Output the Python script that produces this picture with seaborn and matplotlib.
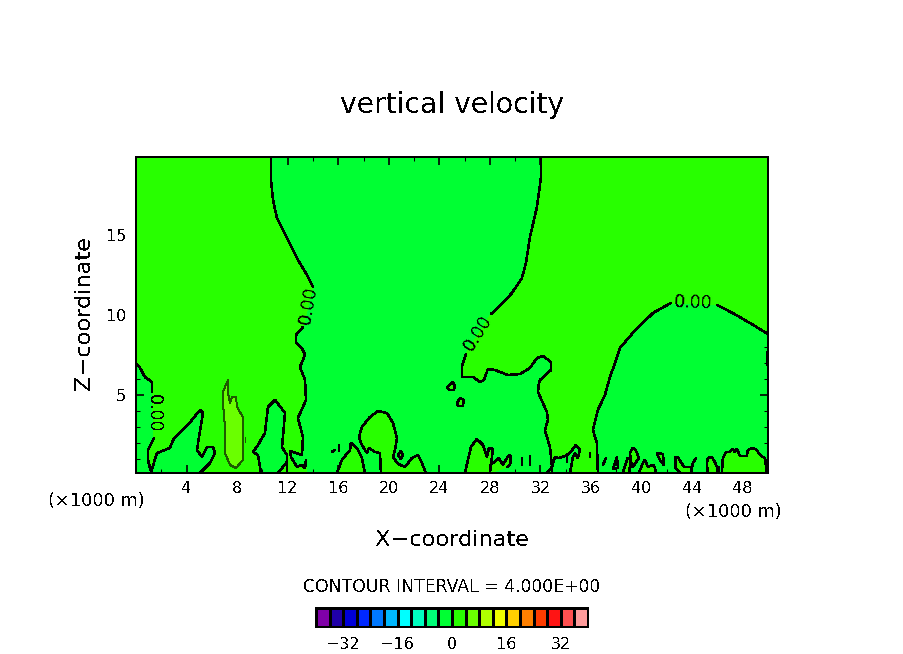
import matplotlib
matplotlib.use("Agg")

import matplotlib.pyplot as plt
from matplotlib.colors import ListedColormap
import numpy as np
import pandas as pd
import seaborn as sns

# -----------------------------
# COLOUR TABLE
# -----------------------------
levels = [-38, -34, -30, -26, -22, -18, -14, -10, -6, -2, 2, 6, 10, 14, 18, 22, 26, 30, 34, 38]
level_colors = ["#8000a8", "#2000a8", "#0000d8", "#0028ff", "#0078ff", "#00b8ff", "#00ffff",
                "#00ffc0", "#00ff78", "#00ff33", "#28ff00", "#6aff00", "#b0ff00", "#f0ff00",
                "#ffd000", "#ff8000", "#ff3c00", "#ff1414", "#ff5050", "#ff9c9c"]
bar_ticks = [-32, -16, 0, 16, 32]

x_major = [4, 8, 12, 16, 20, 24, 28, 32, 36, 40, 44, 48]
x_minor = [2, 6, 10, 14, 18, 22, 26, 30, 34, 38, 42, 46, 50]
z_major = [5, 10, 15]
z_minor = [1, 2, 3, 4, 6, 7, 8, 9, 11, 12, 13, 14, 16, 17, 18, 19]

# -----------------------------
# ZERO CONTOUR (x km, z km)
# -----------------------------
left_upper = [(0, 7.0), (0.32, 6.69), (0.71, 6.12), (1.27, 5.81), (1.27, 5.19)]
left_lower = [(1.42, 2.31), (0.95, 1.56), (0.95, 0.94), (1.19, 0.19), (1.66, 1.375), (2.69, 1.69),
              (2.93, 2.19), (3.64, 2.81), (4.11, 3.125), (5.06, 4.06), (5.30, 3.875), (4.98, 2.375),
              (4.83, 1.56), (5.22, 1.125), (5.62, 1.75), (6.09, 1.75), (6.25, 1.375), (5.85, 0.75),
              (5.06, 0.125)]
west_upper = [(10.68, 19.875), (10.68, 18.44), (10.84, 17.19), (11.15, 16.06), (11.94, 14.81),
              (12.73, 13.56), (13.53, 12.5), (14.0, 11.75)]
west_lower = [(13.21, 9.25), (12.66, 8.75), (12.66, 8.31), (13.21, 7.81), (13.37, 7.5), (12.97, 6.75),
              (13.37, 5.94), (13.45, 4.69), (12.81, 3.56), (13.21, 2.375), (13.13, 1.25), (12.18, 1.5),
              (12.26, 1.125), (12.73, 0.5), (13.13, 0.625), (13.37, 0.44), (13.45, 0.94)]
bump_11 = [(9.89, 0.125), (9.65, 1.25), (9.25, 1.44), (9.65, 1.875), (10.2, 2.625), (10.44, 4.25),
           (11.0, 4.69), (11.79, 3.875), (11.55, 1.75), (11.94, 1.25), (11.94, 0.81), (11.23, 0.125)]
stem_12 = [(11.94, 0.81), (11.94, 0.125)]
bump_17 = [(15.9, 0.125), (16.29, 0.94), (16.93, 1.56), (17.0, 2.0), (17.48, 1.69), (17.87, 1.06),
           (18.11, 0.125)]
bump_20 = [(19.38, 0.125), (19.3, 1.375), (18.9, 1.44), (18.43, 1.69), (18.27, 1.375), (17.87, 1.875),
           (17.64, 2.375), (17.87, 3.0), (18.51, 3.625), (19.14, 4.0), (19.85, 3.875), (20.33, 3.25),
           (20.65, 2.31), (20.49, 1.56), (20.33, 1.125), (20.73, 0.69), (21.28, 0.5), (21.83, 1.06),
           (22.31, 1.25), (22.62, 0.75), (22.94, 0.125)]
bump_27 = [(26.02, 0.125), (26.5, 1.75), (26.97, 2.25), (27.45, 1.875), (27.76, 1.125), (27.92, 1.69),
           (28.24, 1.625), (28.16, 1.125), (28.0, 0.125)]
wiggle_29 = [(28.0, 0.125), (28.0, 0.625), (28.56, 0.94), (28.72, 1.06), (29.03, 0.625), (29.35, 1.06),
             (29.51, 1.25), (29.66, 1.125), (29.59, 0.625), (29.35, 0.5)]
mid_upper = [(32.03, 19.875), (32.03, 18.56), (31.72, 16.75), (31.17, 14.875), (30.85, 13.25),
             (30.53, 12.31), (29.74, 11.375), (29.03, 10.75), (28.08, 10.06)]
mid_lower = [(26.1, 7.56), (25.78, 6.75), (25.78, 6.125), (26.66, 6.125), (27.21, 5.81), (27.53, 5.94),
             (27.84, 6.625), (28.4, 6.56), (29.43, 6.25), (30.37, 6.31), (31.17, 6.69), (31.72, 7.31),
             (32.2, 7.44), (32.83, 7.06), (32.83, 6.56), (31.96, 5.94), (31.88, 5.75), (31.8, 5.19),
             (32.51, 3.94), (32.59, 3.44), (32.35, 2.81), (32.75, 1.75), (32.91, 0.5), (33.14, 1.125),
             (33.46, 1.06), (33.93, 1.19), (34.33, 1.375), (34.8, 1.875), (35.12, 1.56), (34.96, 1.06),
             (34.72, 1.375), (34.57, 1.125), (34.33, 0.125)]
spur_33 = [(32.51, 0.125), (32.91, 0.5), (32.91, 0.125)]
east_upper = [(50.0, 8.81), (48.57, 9.5), (47.2, 10.125), (45.96, 10.625)]
east_lower = [(42.32, 10.75), (40.9, 10.125), (39.3, 8.875), (38.29, 7.94), (37.9, 7.0), (37.5, 6.125),
              (37.1, 5.0), (36.54, 4.06), (36.15, 2.81), (36.46, 2.0), (36.54, 0.125)]
wedge_39 = [(38.5, 0.125), (38.9, 1.06), (39.15, 0.94), (39.0, 0.125)]
loop_39 = [(39.23, 0.5), (39.07, 1.375), (39.3, 1.69), (39.54, 1.56), (39.78, 1.06), (39.3, 0.5), (39.23, 0.5)]
bump_40 = [(39.78, 0.125), (40.1, 0.75), (40.26, 0.94), (40.5, 0.5), (40.9, 0.625), (41.05, 0.5), (41.13, 0.125)]
wedge_41 = [(41.2, 1.375), (41.69, 1.31), (41.77, 0.625), (41.45, 0.94), (41.2, 1.375)]
bump_43 = [(43.03, 0.125), (42.7, 0.44), (42.7, 1.125), (42.87, 1.125), (43.19, 0.69), (43.42, 0.5),
           (43.82, 0.5), (43.98, 0.44), (43.9, 0.125)]
spur_44 = [(43.98, 0.44), (44.06, 0.75), (44.3, 1.06)]
bump_45 = [(45.24, 0.125), (45.16, 0.75), (45.24, 1.06), (45.56, 1.125), (45.8, 0.81), (45.96, 0.5), (46.04, 0.125)]
bump_48 = [(46.35, 0.125), (46.43, 1.06), (46.67, 1.44), (46.99, 1.44), (47.2, 1.625), (47.38, 1.44),
           (47.54, 1.625), (47.78, 1.19), (48.33, 1.19), (48.41, 1.56), (48.8, 1.69), (49.12, 1.56),
           (49.36, 1.25), (49.75, 1.06), (49.83, 0.625), (49.83, 0.125)]
loop_21 = [(20.73, 1.25), (20.96, 1.5), (21.12, 1.25), (20.96, 1.0), (20.73, 1.25)]
loop_25a = [(24.6, 5.44), (25.0, 5.81), (25.23, 5.625), (25.15, 5.31), (24.84, 5.31), (24.6, 5.44)]
loop_25b = [(25.39, 4.5), (25.63, 4.81), (25.94, 4.69), (25.86, 4.31), (25.47, 4.31), (25.39, 4.5)]
loop_38 = [(38.05, 1.125), (37.73, 0.375), (37.81, 0.375), (38.13, 0.44), (38.05, 1.125)]
blob_16 = [(16.06, 1.5), (16.06, 1.9)]
blob_15 = [(15.5, 1.45), (15.7, 1.55)]
blob_30 = [(30.53, 1.06), (30.53, 0.625)]
blob_31 = [(31.17, 1.19), (31.17, 0.625)]
blob_34 = [(34.09, 1.19), (34.09, 0.81)]
blob_36 = [(35.9, 1.375), (35.9, 1.125)]
blob_37 = [(36.94, 0.625), (37.18, 1.06)]
blob_46 = [(46.1, 0.5), (46.1, 0.125)]
blob_50 = [(49.9, 6.9), (49.9, 7.7)]

# weak updraft near x = 8, next colour band up
patch_8 = [(7.28, 5.94), (6.88, 5.19), (6.88, 4.5), (7.04, 3.0), (7.04, 1.375), (7.44, 0.625), (7.91, 0.44),
           (8.46, 0.94), (8.46, 3.625), (7.99, 4.25), (7.91, 4.875), (7.59, 4.875), (7.44, 4.5),
           (7.28, 5.125), (7.28, 5.94)]
mark_8 = [(8.62, 2.05), (8.62, 2.4)]

contour_pieces = [left_upper, left_lower, west_upper, west_lower, bump_11, stem_12, bump_17, bump_20,
                  bump_27, wiggle_29, mid_upper, mid_lower, spur_33, east_upper, east_lower, wedge_39,
                  loop_39, bump_40, wedge_41, bump_43, spur_44, bump_45, bump_48, loop_21, loop_25a,
                  loop_25b, loop_38, blob_16, blob_15, blob_30, blob_31, blob_34, blob_36, blob_37,
                  blob_46, blob_50]

# labels on the contour: x, z, rotation
label_x = [1.42, 13.6, 27.05, 44.05]
label_z = [3.875, 10.625, 8.875, 10.75]
label_rot = [-90, 80, 58, -2]

X_RANGE = (0, 50)
Z_RANGE = (0.125, 19.875)
W, H = 904, 654


def pieces_frame(pieces):
    rows = []
    for i, piece in enumerate(pieces):
        for x, z in piece:
            rows.append({"x": x, "z": z, "seg": i})
    return pd.DataFrame(rows)


def fill_region(ax, points, color):
    xs, zs = zip(*points)
    ax.fill(xs, zs, color=color, linewidth=0)


sns.set_theme(style="white")
plt.rcParams["font.family"] = ["DejaVu Sans"]
plt.rcParams["text.antialiased"] = False
plt.rcParams["lines.antialiased"] = False
plt.rcParams["patch.antialiased"] = False

fig = plt.figure(figsize=(W / 100, H / 100), dpi=100, facecolor="white")
ax = fig.add_axes([136 / W, (H - 473) / H, 632 / W, 316 / H])

# -----------------------------
# FIELD
# -----------------------------
light = level_colors[9]
dark = level_colors[10]
ax.set_facecolor(light)

# the two big positive areas are bounded by the contour pieces
west_region = ([(0, 19.875)] + west_upper + west_lower + [(13.45, 0.125)]
               + bump_11[::-1] + left_lower[::-1] + left_upper[::-1])
east_region = mid_upper + mid_lower + east_lower[::-1] + east_upper[::-1] + [(50, 19.875)]

fill_region(ax, west_region, dark)
fill_region(ax, east_region, dark)
for region in [bump_17, bump_20, bump_27, wiggle_29, spur_33, wedge_39, loop_39, bump_40, wedge_41,
               bump_43, bump_45, bump_48, loop_25a, loop_25b, loop_21]:
    fill_region(ax, region, dark)
fill_region(ax, patch_8, level_colors[11])

sns.lineplot(data=pieces_frame([patch_8, mark_8]), x="x", y="z", units="seg", estimator=None, sort=False,
             color="#1d5a00", linewidth=0.7, ax=ax, legend=False)
sns.lineplot(data=pieces_frame(contour_pieces), x="x", y="z", units="seg", estimator=None, sort=False,
             color="black", linewidth=1.1, ax=ax, legend=False)

for x, z, rot in zip(label_x, label_z, label_rot):
    ax.text(x, z, "0.00", rotation=rot, ha="center", va="center", fontsize=12.5, color="black",
            rotation_mode="anchor")

# -----------------------------
# AXES
# -----------------------------
ax.set_xlim(*X_RANGE)
ax.set_ylim(*Z_RANGE)
ax.set_xlabel("")
ax.set_ylabel("")
ax.set_xticks(x_major)
ax.set_xticks(x_minor, minor=True)
ax.set_yticks(z_major)
ax.set_yticks(z_minor, minor=True)
ax.tick_params(which="major", direction="in", length=5.8, width=1.2, top=True, right=True, bottom=True,
               left=True, color="black", labelcolor="black", labelsize=11.5)
ax.tick_params(which="minor", direction="in", length=2.9, width=0.75, top=True, right=True, bottom=True,
               left=True, color="black")
ax.tick_params(axis="x", which="major", pad=5.5)
ax.tick_params(axis="y", which="major", pad=7)
for spine in ax.spines.values():
    spine.set_visible(True)
    spine.set_color("black")
    spine.set_linewidth(1.2)
ax.grid(False)


def pixel_text(x, y, s, size, **kw):
    fig.text(x / W, 1 - y / H, s, fontsize=size, ha=kw.pop("ha", "center"), va="center", color="black", **kw)


pixel_text(452, 105, "vertical velocity", 20.3)
pixel_text(452, 540, "X\u2212coordinate", 16.2)
pixel_text(84, 313, "Z\u2212coordinate", 16.2, rotation=90)
pixel_text(96, 501, "(\u00d71000 m)", 12.8)
pixel_text(733, 512, "(\u00d71000 m)", 12.8)
pixel_text(452, 587, "CONTOUR INTERVAL = 4.000E+00", 12.4)

# -----------------------------
# COLOUR BAR
# -----------------------------
cax = fig.add_axes([316 / W, (H - 627) / H, 272 / W, 19 / H])
sns.heatmap(np.array([levels]), ax=cax, cmap=ListedColormap(level_colors), vmin=-40, vmax=40, cbar=False,
            linewidths=0.8, linecolor="black", xticklabels=False, yticklabels=False)
cax.set_xticks([(v + 40) / 4 for v in bar_ticks])
cax.set_xticklabels([str(v).replace("-", "\u2212") for v in bar_ticks], fontsize=11.5, rotation=0, color="black")
cax.tick_params(axis="x", length=0, pad=7)
for spine in cax.spines.values():
    spine.set_visible(True)
    spine.set_color("black")
    spine.set_linewidth(1.2)

fig.savefig("out.png", dpi=100)
plt.close(fig)
